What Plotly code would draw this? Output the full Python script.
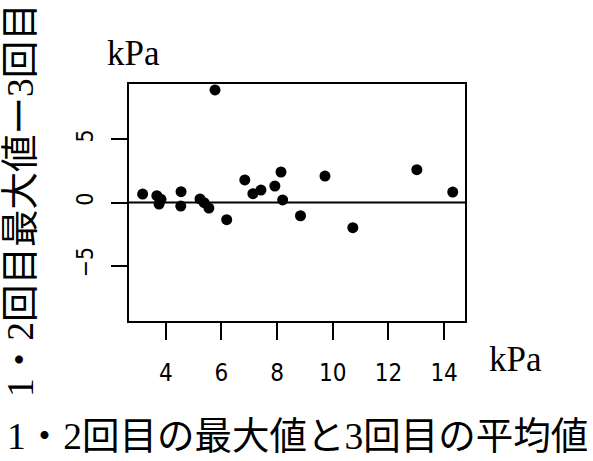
import plotly.graph_objects as go

x_vals = [3.17, 3.68, 3.83, 3.76, 4.55, 4.54, 5.23, 5.38, 5.55, 5.77, 6.19,
          6.84, 7.13, 7.42, 7.92, 8.14, 8.20, 8.84, 9.72, 10.72, 13.02, 14.31]
y_vals = [0.67, 0.54, 0.25, -0.12, 0.86, -0.28, 0.28, -0.01, -0.44, 8.93, -1.36,
          1.79, 0.70, 0.99, 1.31, 2.42, 0.20, -1.05, 2.10, -2.00, 2.60, 0.83]
x_ticks = [4, 6, 8, 10, 12, 14]
y_ticks = [-5, 0, 5]
x_title = "1・2回目の最大値と3回目の平均値"
y_title = "1・2回目最大値ー3回目"
unit = "kPa"

serif = "Liberation Serif, Noto Sans CJK JP"
gothic = "DejaVu Sans Condensed, DejaVu Sans"

W, H = 593, 461
l, r, t, b = 129, 128, 84, 140
pw, ph = W - l - r, H - t - b


def px(xp):
    return (xp - l) / pw


def py(yp):
    return (H - b - yp) / ph


fig = go.Figure()
fig.add_trace(go.Scatter(x=x_vals, y=y_vals, mode="markers",
                         marker=dict(color="black", size=11), showlegend=False))
fig.add_hline(y=0, line=dict(color="black", width=2))

fig.update_layout(
    width=W, height=H,
    margin=dict(l=l, r=r, t=t, b=b),
    paper_bgcolor="white", plot_bgcolor="white",
    xaxis=dict(range=[2.68, 14.75], tickvals=x_ticks, ticks="outside", ticklen=17,
               tickwidth=2, tickcolor="black", showgrid=False, zeroline=False,
               showline=True, linecolor="black", linewidth=2, mirror=True,
               tickfont=dict(family=gothic, size=24, color="black"),
               ticklabelstandoff=12),
    yaxis=dict(range=[-9.4, 9.4], tickvals=y_ticks, ticks="outside", ticklen=16,
               tickwidth=2, tickcolor="black", showgrid=False, zeroline=False,
               showline=True, linecolor="black", linewidth=2, mirror=True,
               tickangle=-90,
               tickfont=dict(family=gothic, size=23, color="black"),
               ticklabelstandoff=9),
)

common = dict(xref="x domain", yref="y domain", showarrow=False,
              xanchor="center", yanchor="middle")
fig.add_annotation(text=unit, x=px(133), y=py(53),
                   font=dict(family=serif, size=35, color="black"), **common)
fig.add_annotation(text=unit, x=px(515), y=py(359),
                   font=dict(family=serif, size=35, color="black"), **common)
fig.add_annotation(text=x_title, x=px(297), y=py(436),
                   font=dict(family=serif, size=37.5, color="black"), **common)
fig.add_annotation(text=y_title, x=px(20), y=py(200), textangle=-90,
                   font=dict(family=serif, size=37.5, color="black"), **common)

fig.write_html("out.html")
